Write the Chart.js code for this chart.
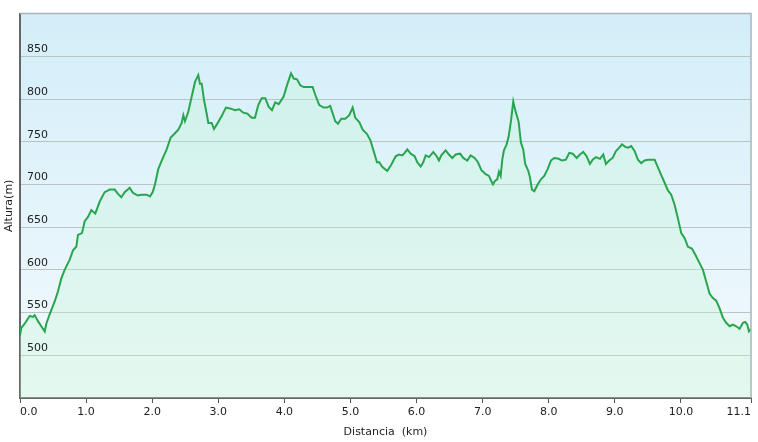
<!DOCTYPE html>
<html><head><meta charset="utf-8">
<script src="https://cdn.jsdelivr.net/npm/chart.js@4.4.1/dist/chart.umd.min.js"></script>
<style>html,body{margin:0;padding:0;background:#fff;}#wrap{width:758px;height:442px;}</style>
</head><body><div id="wrap"><canvas id="c" width="758" height="442"></canvas></div>
<script>
const distanceKm = [0,0.02,0.071,0.147,0.197,0.222,0.272,0.322,0.374,0.398,0.449,0.525,0.575,0.625,0.676,0.752,0.802,0.852,0.877,0.938,0.979,1.029,1.079,1.139,1.206,1.281,1.357,1.433,1.483,1.533,1.584,1.66,1.71,1.785,1.835,1.917,1.967,2.008,2.042,2.092,2.144,2.219,2.28,2.345,2.395,2.446,2.471,2.496,2.546,2.598,2.648,2.697,2.723,2.749,2.784,2.824,2.849,2.9,2.935,2.976,3.051,3.116,3.177,3.253,3.318,3.378,3.439,3.505,3.555,3.605,3.657,3.711,3.762,3.812,3.862,3.914,3.989,4.039,4.1,4.141,4.191,4.241,4.292,4.368,4.428,4.467,4.528,4.595,4.644,4.694,4.731,4.77,4.811,4.861,4.921,4.982,5.033,5.073,5.133,5.185,5.25,5.3,5.351,5.401,5.436,5.477,5.537,5.557,5.617,5.684,5.734,5.784,5.82,5.859,5.911,5.971,6.011,6.062,6.101,6.138,6.188,6.253,6.304,6.339,6.374,6.44,6.49,6.54,6.592,6.657,6.707,6.767,6.818,6.879,6.929,6.979,7.045,7.095,7.13,7.156,7.186,7.221,7.247,7.272,7.297,7.322,7.363,7.393,7.428,7.463,7.493,7.545,7.579,7.614,7.644,7.69,7.716,7.746,7.781,7.832,7.882,7.932,7.983,8.033,8.083,8.15,8.2,8.26,8.31,8.362,8.422,8.472,8.522,8.573,8.623,8.664,8.714,8.775,8.825,8.865,8.915,8.967,9.017,9.067,9.107,9.158,9.198,9.248,9.3,9.349,9.399,9.451,9.501,9.561,9.602,9.652,9.702,9.753,9.803,9.853,9.905,9.955,10.005,10.056,10.106,10.166,10.216,10.268,10.333,10.383,10.434,10.484,10.534,10.585,10.635,10.685,10.737,10.787,10.837,10.888,10.938,10.972,11.003,11.029,11.06];
const altitudeM = [523,532,537,546,545,547,540,534,528,537,548,563,575,590,600,612,623,627,641,643,657,662,670,666,680,691,694,694,689,685,691,696,690,687,688,688,686,691,700,718,728,741,755,760,764,772,781,774,785,803,820,828,818,818,799,783,772,772,765,770,780,790,789,787,788,784,783,778,778,793,801,801,791,787,796,794,803,816,830,824,823,816,814,814,814,805,793,790,790,792,783,774,771,777,777,781,790,778,773,764,759,752,739,726,726,721,717,716,723,733,735,734,737,741,736,733,726,721,726,734,732,738,733,728,734,740,735,731,735,736,731,728,734,731,726,717,712,710,704,700,704,706,715,710,729,740,747,756,774,797,787,773,749,741,724,716,708,694,692,700,706,710,718,728,731,730,728,729,737,736,731,735,738,733,724,729,732,730,735,724,728,731,739,743,747,744,743,745,739,729,725,728,729,729,729,720,711,702,693,688,676,660,643,637,627,625,618,610,600,586,572,567,564,555,544,538,534,536,534,531,538,539,536,528,531];
const xTickValues = [0,1,2,3,4,5,6,7,8,9,10,11.06];
const yTickLabels = [500,550,600,650,700,750,800,850];
const yMin = 450, yMax = 900;

const FONT = {family:'"DejaVu Sans", Verdana, sans-serif', size:11};
const points = distanceKm.map((d,i)=>({x:d, y:altitudeM[i]}));

const bgPlugin = {
  id:'bg',
  beforeDraw(chart){
    const {ctx, chartArea:a} = chart;
    const g = ctx.createLinearGradient(0,a.top,0,a.bottom);
    g.addColorStop(0,'#d3eef9');
    g.addColorStop(1,'#f3fafd');
    ctx.save();
    ctx.fillStyle = g;
    ctx.fillRect(a.left,a.top,a.right-a.left,a.bottom-a.top);
    ctx.restore();
  },
  afterDatasetsDraw(chart){
    // y tick labels drawn above the area fill, positioned through the y scale
    const {ctx, chartArea:a, scales:{y}} = chart;
    ctx.save();
    ctx.fillStyle = '#222';
    ctx.font = '11px "DejaVu Sans", Verdana, sans-serif';
    ctx.textAlign = 'left';
    ctx.textBaseline = 'middle';
    yTickLabels.forEach(v=>{ ctx.fillText(String(v), a.left + 7, y.getPixelForValue(v) - 7); });
    ctx.restore();
  },
  afterDraw(chart){
    const {ctx, chartArea:a} = chart;
    ctx.save();
    ctx.strokeStyle = '#a9b5bc';
    ctx.lineWidth = 1.5;
    ctx.beginPath();
    ctx.moveTo(a.left, a.top);
    ctx.lineTo(a.right, a.top);
    ctx.lineTo(a.right, a.bottom);
    ctx.stroke();
    ctx.restore();
  }
};

new Chart(document.getElementById('c'), {
  type:'line',
  data:{datasets:[{
    data: points,
    borderColor:'#28a54e',
    borderWidth:2,
    pointRadius:0,
    tension:0,
    fill:'start',
    backgroundColor:'rgba(195,245,212,0.32)'
  }]},
  options:{
    responsive:false,
    devicePixelRatio:1,
    animation:false,
    layout:{padding:{top:9,right:7,left:0,bottom:0}},
    plugins:{legend:{display:false}, tooltip:{enabled:false}},
    scales:{
      x:{
        type:'linear', min:0, max:xTickValues[xTickValues.length-1],
        afterBuildTicks:s=>{ s.ticks = xTickValues.map(v=>({value:v})); },
        afterFit:s=>{ s.height = 44; },
        ticks:{align:'inner', maxRotation:0, autoSkip:false, padding:3, color:'#222', font:FONT,
          callback:v=>Number(v).toFixed(1)},
        grid:{drawOnChartArea:false, drawTicks:true, tickLength:5, tickColor:'#555', tickWidth:1},
        border:{display:true, color:'#666', width:2},
        title:{display:true, text:'Distancia  (km)', color:'#222', font:FONT, padding:{top:0,bottom:3}}
      },
      y:{
        min:yMin, max:yMax,
        afterBuildTicks:s=>{ const t=[]; for(let v=yMin; v<=yMax; v+=50) t.push({value:v}); s.ticks=t; },
        afterFit:s=>{ s.width = 20; },
        ticks:{mirror:true, padding:7, color:'rgba(0,0,0,0)', font:FONT, callback:()=>''},
        grid:{color:'#bcc3c7', lineWidth:1, drawTicks:false},
        border:{display:true, color:'#666', width:2},
        title:{display:true, text:'Altura(m)', color:'#222', font:FONT, padding:{top:3,bottom:0}}
      }
    }
  },
  plugins:[bgPlugin]
});
</script>
</body></html>
